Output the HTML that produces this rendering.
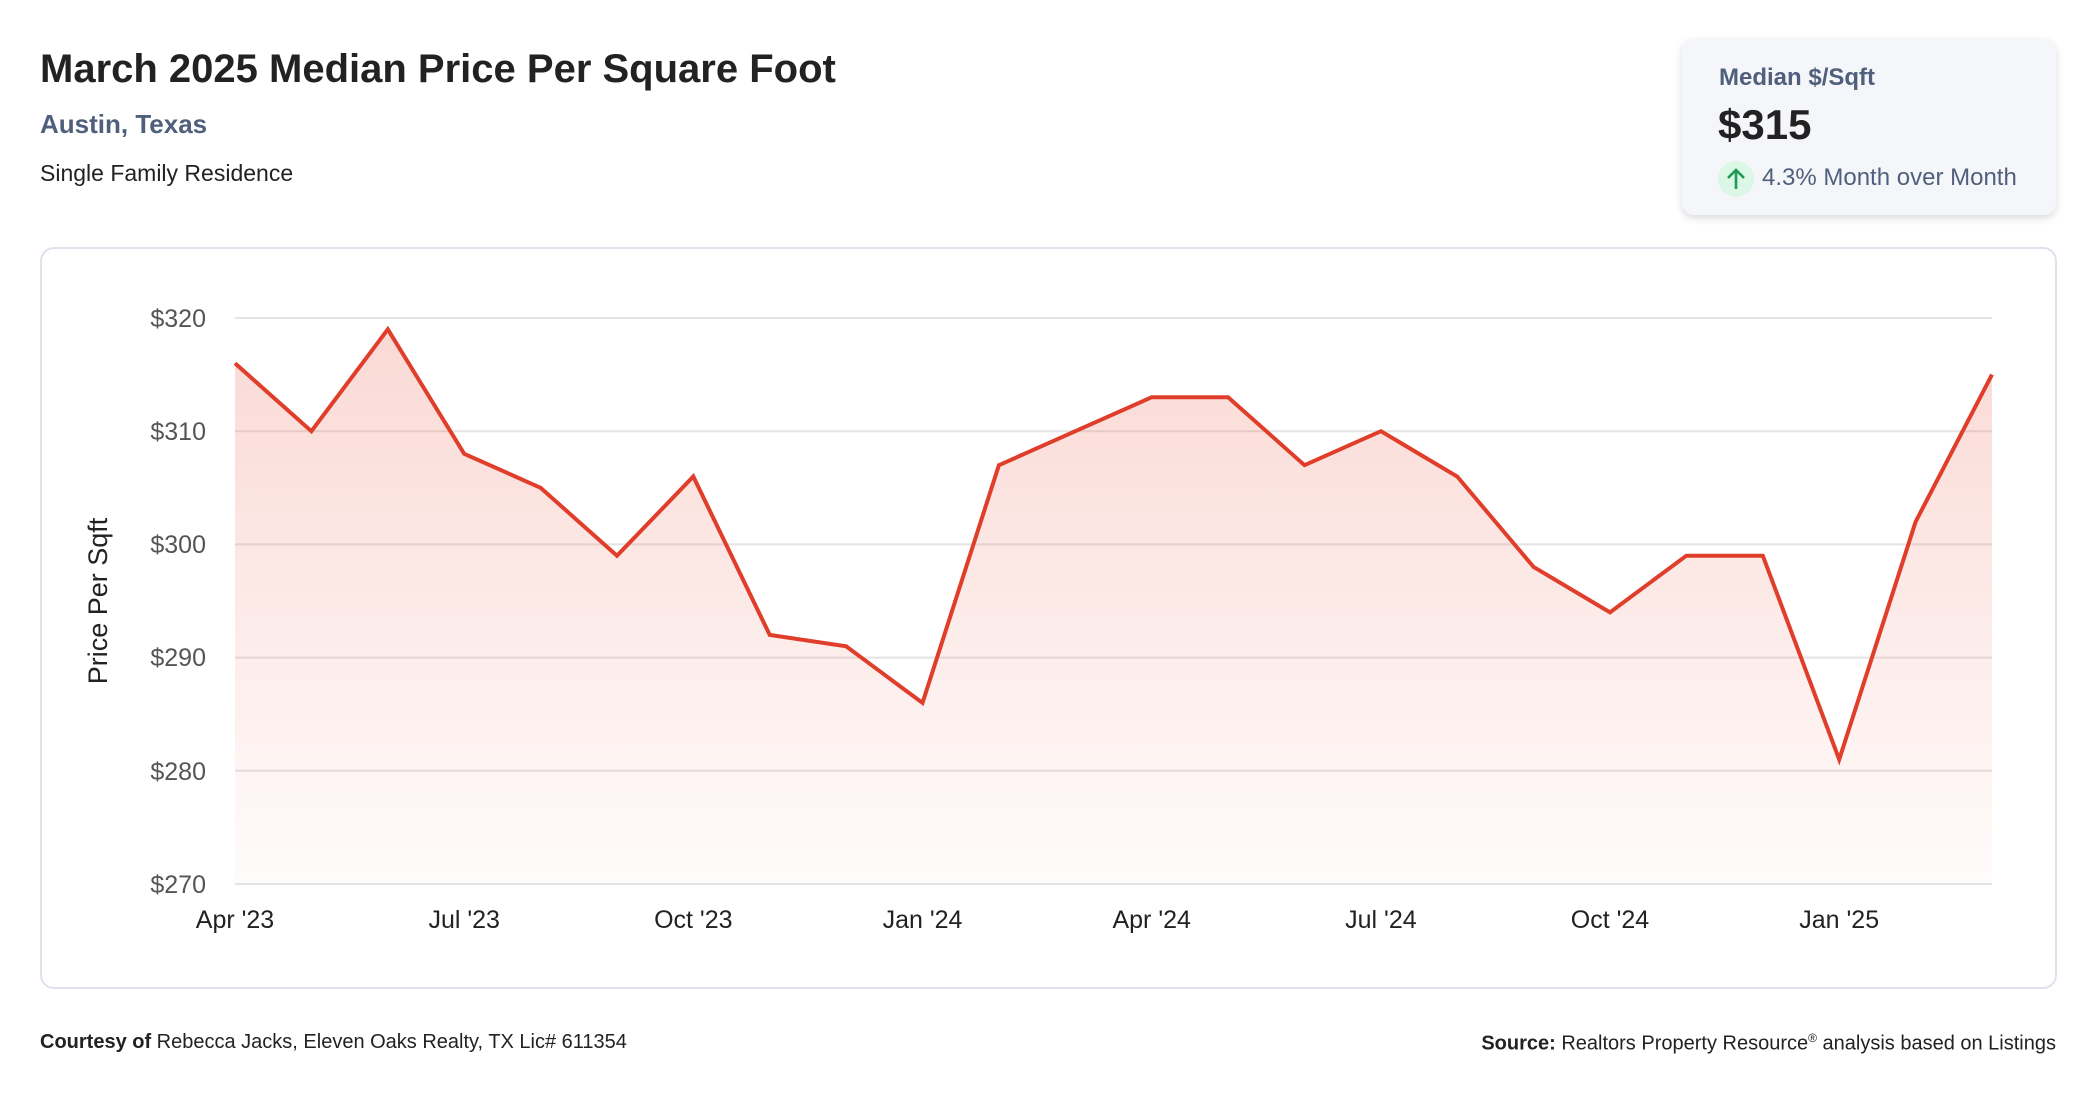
<!DOCTYPE html>
<html><head><meta charset="utf-8"><style>
body{margin:0;width:2096px;height:1100px;background:#fff;font-family:"Liberation Sans",sans-serif;overflow:hidden;position:relative}
.t{position:absolute;white-space:nowrap}
</style></head><body>
<div class="t" style="left:40px;top:47px;font-size:40px;font-weight:bold;color:#222;letter-spacing:0px">March 2025 Median Price Per Square Foot</div>
<div class="t" style="left:40px;top:109px;font-size:26px;font-weight:bold;color:#4f5f7c">Austin, Texas</div>
<div class="t" style="left:40px;top:160px;font-size:23px;color:#222">Single Family Residence</div>
<div style="position:absolute;left:1682px;top:39px;width:374px;height:176px;background:#f5f6fa;border-radius:12px;box-shadow:0 3px 8px rgba(0,0,0,0.15)"></div>
<div class="t" style="left:1719px;top:64px;font-size:24px;font-weight:bold;color:#4f5f7c">Median $/Sqft</div>
<div class="t" style="left:1718px;top:101px;font-size:42px;font-weight:bold;color:#222">$315</div>
<div style="position:absolute;left:1718px;top:161px;width:36px;height:36px;border-radius:50%;background:#dcf7e6"></div>
<svg style="position:absolute;left:1718px;top:161px" width="36" height="36"><path d="M18 28V9M10 17L18 9L26 17" stroke="#1f9a52" stroke-width="2.6" fill="none"/></svg>
<div class="t" style="left:1762px;top:164px;font-size:24px;color:#4f5f7c">4.3% Month over Month</div>
<div style="position:absolute;left:40px;top:247px;width:2013px;height:738px;border:2px solid #dde2ec;border-radius:14px"></div>
<svg style="position:absolute;left:0;top:0" width="2096" height="1100">
<defs><linearGradient id="g" gradientUnits="userSpaceOnUse" x1="0" y1="318" x2="0" y2="884"><stop offset="0" stop-color="#e8503a" stop-opacity="0.22"/><stop offset="1" stop-color="#e8503a" stop-opacity="0.02"/></linearGradient></defs>
<g stroke="#e4e4e4" stroke-width="2">
<line x1="235" x2="1992" y1="318" y2="318"/><line x1="235" x2="1992" y1="431.2" y2="431.2"/><line x1="235" x2="1992" y1="544.4" y2="544.4"/><line x1="235" x2="1992" y1="657.6" y2="657.6"/><line x1="235" x2="1992" y1="770.8" y2="770.8"/><line x1="235" x2="1992" y1="884" y2="884"/>
</g>
<path fill="url(#g)" d="M235,363.3 L311.4,431.2 L387.8,329.3 L464.2,453.8 L540.6,487.8 L617,555.7 L693.3,476.5 L769.7,634.9 L846.1,646.3 L922.5,702.9 L998.9,465.2 L1075.3,431.2 L1151.7,397.2 L1228.1,397.2 L1304.5,465.2 L1380.9,431.2 L1457.2,476.5 L1533.6,567 L1610,612.3 L1686.4,555.7 L1762.8,555.7 L1839.2,759.5 L1915.6,521.8 L1992,374.6 L1992,884 L235,884Z"/>
<polyline fill="none" stroke="#e03e2a" stroke-width="4" stroke-linejoin="miter" points="235,363.3 311.4,431.2 387.8,329.3 464.2,453.8 540.6,487.8 617,555.7 693.3,476.5 769.7,634.9 846.1,646.3 922.5,702.9 998.9,465.2 1075.3,431.2 1151.7,397.2 1228.1,397.2 1304.5,465.2 1380.9,431.2 1457.2,476.5 1533.6,567 1610,612.3 1686.4,555.7 1762.8,555.7 1839.2,759.5 1915.6,521.8 1992,374.6"/>
<g font-family="Liberation Sans,sans-serif" font-size="25" fill="#555" text-anchor="end">
<text x="206" y="327">$320</text><text x="206" y="440">$310</text><text x="206" y="553">$300</text><text x="206" y="666">$290</text><text x="206" y="780">$280</text><text x="206" y="893">$270</text>
</g>
<g font-family="Liberation Sans,sans-serif" font-size="25" fill="#222" text-anchor="middle">
<text x="235" y="928">Apr '23</text><text x="464.2" y="928">Jul '23</text><text x="693.3" y="928">Oct '23</text><text x="922.5" y="928">Jan '24</text><text x="1151.7" y="928">Apr '24</text><text x="1380.9" y="928">Jul '24</text><text x="1610" y="928">Oct '24</text><text x="1839.2" y="928">Jan '25</text>
</g>
<text transform="translate(107,601) rotate(-90)" text-anchor="middle" font-family="Liberation Sans,sans-serif" font-size="27" fill="#222">Price Per Sqft</text>
</svg>
<div class="t" style="left:40px;top:1031px;font-size:20px;color:#222"><b>Courtesy of</b> Rebecca Jacks, Eleven Oaks Realty, TX Lic# 611354</div>
<div class="t" style="right:40px;top:1031px;font-size:20px;color:#222"><b>Source:</b> Realtors Property Resource<sup style="font-size:12px">®</sup> analysis based on Listings</div>
</body></html>
